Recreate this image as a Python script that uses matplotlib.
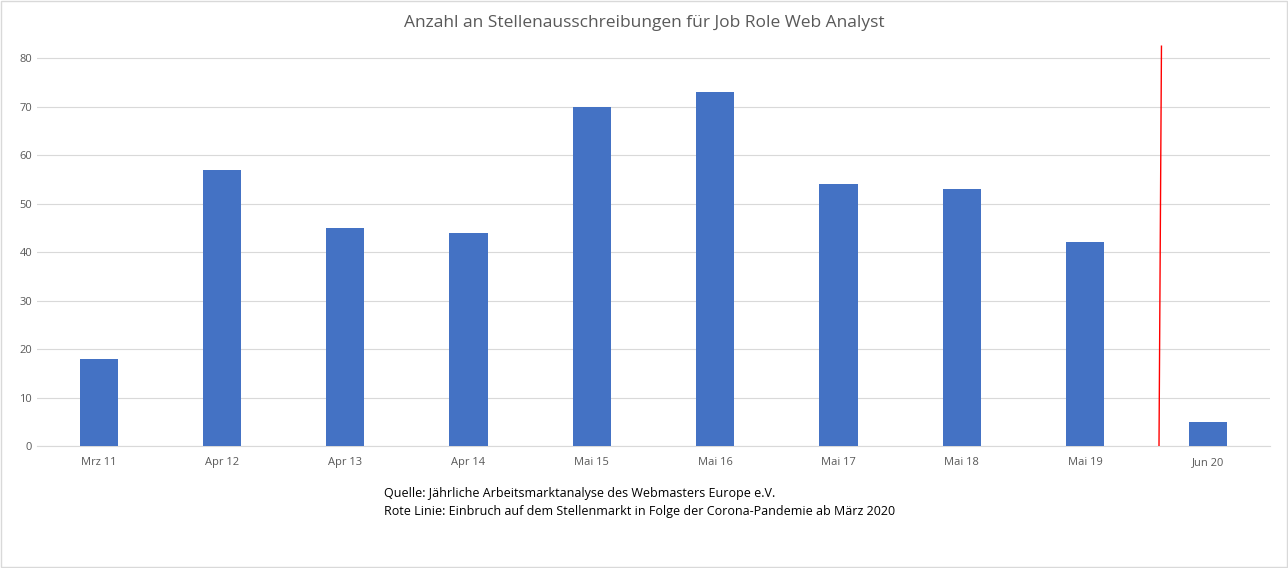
import matplotlib
matplotlib.use('Agg')
import matplotlib.pyplot as plt

categories = ['Mrz 11', 'Apr 12', 'Apr 13', 'Apr 14', 'Mai 15', 'Mai 16', 'Mai 17', 'Mai 18', 'Mai 19', 'Jun 20']
values = [18, 57, 45, 44, 70, 73, 54, 53, 42, 5]
yticks = [0, 10, 20, 30, 40, 50, 60, 70, 80]

plt.rcParams['font.family'] = 'Open Sans'
fig = plt.figure(figsize=(12.88, 5.68), dpi=100)
ax = fig.add_axes([0.0287, 0.2148, 0.9573, 0.7252])

x = range(len(categories))
ax.bar(x, values, width=0.31, color='#4472C4', zorder=3)
ax.set_xlim(-0.5, len(categories) - 0.5)
ax.set_ylim(0, 85)
ax.set_yticks(yticks)
ax.set_xticks(list(x))
ax.set_xticklabels(categories, fontsize=8, color='#595959')
ax.tick_params(axis='y', labelsize=8, labelcolor='#595959', length=0)
ax.tick_params(axis='x', length=0, pad=8)
ax.grid(axis='y', color='#D9D9D9', linewidth=0.8, zorder=0)
for s in ['top', 'right', 'left']:
    ax.spines[s].set_visible(False)
ax.spines['bottom'].set_color('#D9D9D9')

# red marker line (Corona)
ax.plot([8.60, 8.62], [0, 82.5], color='red', linewidth=1, zorder=4)

fig.text(0.5, 0.96, 'Anzahl an Stellenausschreibungen für Job Role Web Analyst',
         ha='center', va='center', fontsize=12.5, color='#595959')
fig.text(384 / 1288, 1 - 493 / 568, 'Quelle: Jährliche Arbeitsmarktanalyse des Webmasters Europe e.V.',
         ha='left', va='center', fontsize=9, color='black')
fig.text(384 / 1288, 1 - 511 / 568, 'Rote Linie: Einbruch auf dem Stellenmarkt in Folge der Corona-Pandemie ab März 2020',
         ha='left', va='center', fontsize=9, color='black')

fig.patches.append(plt.Rectangle((0.0005, 0.001), 0.999, 0.998, transform=fig.transFigure,
                                 fill=False, edgecolor='#D9D9D9', linewidth=1))
fig.savefig('out.png', dpi=100)
